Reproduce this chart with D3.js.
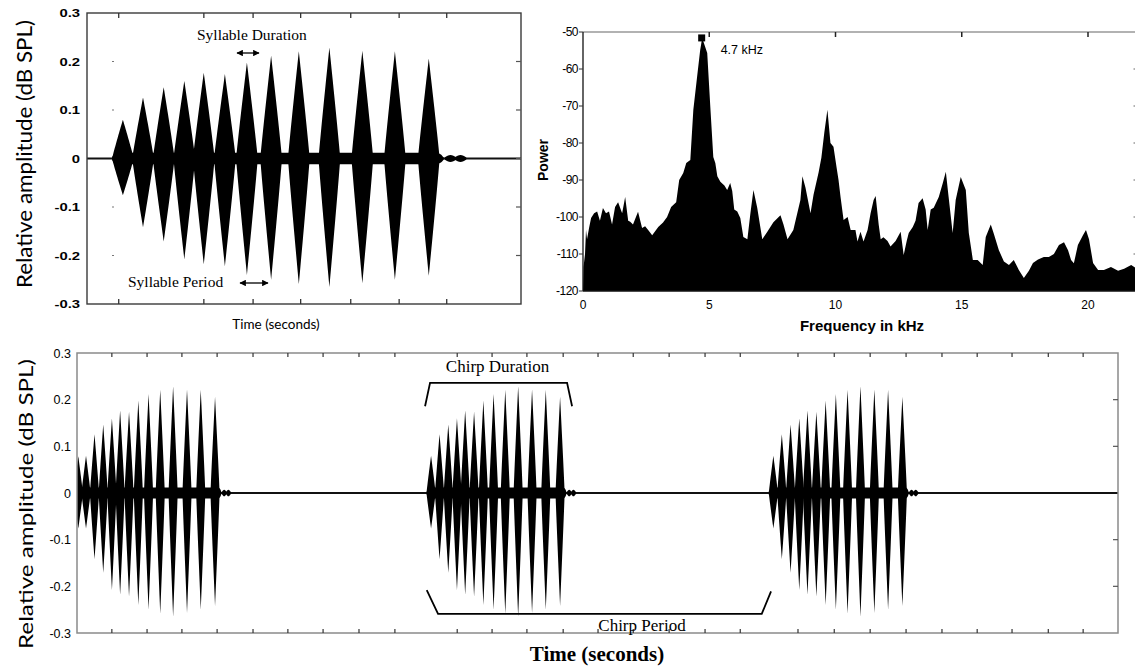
<!DOCTYPE html>
<html>
<head>
<meta charset="utf-8">
<script src="https://d3js.org/d3.v7.min.js"></script>
<style>
  body{margin:0;background:#fff;}
  svg{display:block;}
</style>
</head>
<body>
<div id="main"></div>
<script>
/* Size */
const width=1135,height=668;

/* Data: one chirp = 13 syllables (seconds after chirp onset, relative amplitude) */
const syllableOffsets=[0,0.0241,0.0489,0.0736,0.0969,0.1222,0.1486,0.1776,0.2108,0.2474,0.2869,0.3259,0.3665];
const syllableTop=[0.08,0.126,0.147,0.16,0.177,0.174,0.198,0.212,0.221,0.229,0.222,0.221,0.206];
const syllableBottom=[-0.076,-0.142,-0.171,-0.208,-0.218,-0.222,-0.24,-0.25,-0.259,-0.265,-0.257,-0.25,-0.242];

/* zoomed chirp (top left) */
const zoomOnset=0.043;
const zoomTicks=[0.038,0.140,0.199,0.256,0.316,0.374,0.431];

/* chirp train (bottom) */
const chirpOnsets=[0.0256,1.0057,1.978];
const leadSyllable={t:0.0037,top:0.079,bottom:-0.076};
const chirpTicks=[0.099,0.199,0.298,0.398,0.5,0.599,0.699,0.801,0.903,1.080,1.179,1.278,1.381,1.480,1.580,1.682,1.784,1.884,2.048,2.151,2.253,2.355,2.457,2.557,2.656,2.759,2.858];
const ampTicks=[0.3,0.2,0.1,0,-0.1,-0.2,-0.3];
const ampLabels=["0.3","0.2","0.1","0","-0.1","-0.2","-0.3"];

/* power spectrum (top right) */
const freqKHz=[0,0.02,0.08,0.12,0.16,0.24,0.32,0.44,0.56,0.67,
  0.79,0.91,1.03,1.15,1.27,1.39,1.55,1.67,1.79,1.87,
  1.98,2.18,2.34,2.46,2.58,2.74,2.98,3.17,3.33,3.49,
  3.69,3.81,3.97,4.09,4.25,4.37,4.52,4.64,4.72,4.92,
  5.04,5.16,5.24,5.32,5.44,5.60,5.71,5.83,5.91,5.99,
  6.11,6.23,6.35,6.51,6.63,6.75,6.90,7.10,7.30,7.54,
  7.82,7.94,8.10,8.33,8.61,8.69,8.81,9.01,9.13,9.33,
  9.44,9.56,9.68,9.80,9.92,10.04,10.12,10.20,10.32,10.48,
  10.60,10.79,10.87,10.99,11.11,11.27,11.39,11.51,11.59,11.71,
  11.79,11.90,12.06,12.18,12.38,12.58,12.70,12.82,12.90,13.06,
  13.17,13.29,13.45,13.57,13.65,13.77,13.89,14.09,14.25,14.37,
  14.48,14.64,14.76,14.96,15.16,15.28,15.44,15.63,15.83,15.95,
  16.15,16.27,16.47,16.67,16.87,17.06,17.26,17.46,17.66,17.82,
  18.02,18.25,18.45,18.65,18.85,19.05,19.21,19.33,19.44,19.60,
  19.80,19.92,20.04,20.20,20.40,20.63,20.91,21.19,21.43,21.71,22.0];
const powerDb=[-120,-113.5,-110,-103.5,-106,-103,-100.3,-99,-98.5,-101,
  -97.6,-99,-98.5,-102,-97.3,-96,-99,-94.6,-101,-101.3,
  -102,-98.6,-103,-102.5,-103.5,-104.9,-102.7,-101.5,-100,-97.3,
  -96,-90,-88.1,-85.4,-84.6,-71,-62,-54.9,-51.6,-55.7,
  -70,-83.8,-85.4,-89,-90.5,-91.5,-92.7,-90.8,-93,-98,
  -98.5,-100.3,-105.4,-106,-99,-92.7,-97.5,-106,-104,-101.4,
  -99.5,-102,-106,-103.5,-95.4,-89,-92,-99,-94,-88,
  -84,-77,-71,-80,-81,-86.5,-90,-94.6,-100.8,-100,
  -103.5,-103.5,-106.6,-104,-106.6,-103.5,-99,-95.4,-94.3,-102,
  -106,-105.5,-106.5,-108,-106.5,-104,-110.3,-106.5,-104.3,-102.7,
  -101,-96.2,-94.9,-98,-103.5,-98,-97.5,-94.6,-90.8,-87.8,
  -94.6,-104.3,-95.4,-89.2,-92.7,-104.3,-111.6,-111.6,-113,-105.4,
  -102,-104.5,-109,-112,-113,-111.6,-114.3,-116.5,-114.5,-112.4,
  -111.5,-110.8,-110.8,-110,-107.6,-106.8,-109,-111.6,-112.5,-107.6,
  -104.9,-103.5,-106,-112.4,-114.3,-114.3,-113.5,-114.5,-114,-113,-114.3];
const powerTicks=[-50,-60,-70,-80,-90,-100,-110,-120];
const freqTicks=[0,5,10,15,20];
const peakMark={f:4.7,db:-51.6,label:"4.7 kHz"};

const sans="'Liberation Sans', Arial, sans-serif";
const serif="'Liberation Serif', 'Times New Roman', serif";
const human="Lato, 'Open Sans', sans-serif";

const svg=d3.select("#main").append("svg").attr("width",width).attr("height",height);

/* Scales */
const xZ=d3.scaleLinear().domain([0,0.52]).range([87,521]);
const yZ=d3.scaleLinear().domain([-0.3,0.3]).range([304,13]);
const xF=d3.scaleLinear().domain([0,22]).range([583,1138.5]);
const yP=d3.scaleLinear().domain([-120,-50]).range([291,32]);
const xC=d3.scaleLinear().domain([0,2.957]).range([77,1118]);
const yC=d3.scaleLinear().domain([-0.3,0.3]).range([633,353]);

/* syllable list for a chirp */
function chirp(onset){
  return syllableOffsets.map((o,i)=>({t:onset+o,top:syllableTop[i],bottom:syllableBottom[i]}));
}

const halfWidth=0.013, bandAmp=0.012;
const profile=d3.range(-1,1.0001,0.05);

function drawWave(g,x,y,syllables,spans,lineW){
  // thin baseline
  g.append("line")
    .attr("x1",x.range()[0]).attr("x2",x.range()[1])
    .attr("y1",y(0)).attr("y2",y(0))
    .attr("stroke","#111").attr("stroke-width",lineW);
  const band=d3.area().x(d=>x(d[0])).y0(d=>y(-d[1])).y1(d=>y(d[1])).curve(d3.curveMonotoneX);
  spans.forEach(s=>{
    const a=s[0]-0.008,b=s[1]+0.018;
    g.append("path").attr("fill","#000")
      .attr("d",band([[a,0.001],[a+0.005,bandAmp],[b-0.01,bandAmp],[b-0.004,0.009],[b,0.002]]));
    // small trailing bursts after the chirp
    [0.008,0.02].forEach(c=>{
      g.append("path").attr("fill","#000")
        .attr("d",band([[b+c-0.007,0.002],[b+c,0.007],[b+c+0.007,0.002]]));
    });
  });
  const sylArea=d3.area().x(d=>x(d.t)).y0(d=>y(d.lo)).y1(d=>y(d.hi));
  syllables.forEach(s=>{
    const pts=profile.map(u=>{
      const k=Math.pow(1-Math.abs(u),0.95);
      return {t:s.t+u*halfWidth,hi:Math.max(s.top*k,0.004),lo:Math.min(s.bottom*k,-0.004)};
    });
    g.append("path").attr("d",sylArea(pts)).attr("fill","#000");
  });
}

const defs=svg.append("defs");
defs.append("clipPath").attr("id","clipZ").append("rect")
  .attr("x",87).attr("y",13).attr("width",434).attr("height",291);
defs.append("clipPath").attr("id","clipC").append("rect")
  .attr("x",77).attr("y",353).attr("width",1041).attr("height",280);

/* ---------- top left: one chirp ---------- */
let gZ=svg.append("g");
let zSyl=chirp(zoomOnset);
drawWave(gZ.append("g").attr("clip-path","url(#clipZ)"),xZ,yZ,zSyl,
  [[zSyl[0].t,zSyl[zSyl.length-1].t]],2);

gZ.append("rect").attr("x",87).attr("y",13).attr("width",434).attr("height",291)
  .attr("fill","none").attr("stroke","#3a3a3a").attr("stroke-width",1.4);
gZ.selectAll(".tt").data(zoomTicks).enter().append("line")
  .attr("x1",d=>xZ(d)).attr("x2",d=>xZ(d)).attr("y1",13).attr("y2",18)
  .attr("stroke","#333").attr("stroke-width",1.3);
gZ.selectAll(".tb").data(zoomTicks).enter().append("line")
  .attr("x1",d=>xZ(d)).attr("x2",d=>xZ(d)).attr("y1",299).attr("y2",304)
  .attr("stroke","#333").attr("stroke-width",1.3);
gZ.selectAll(".tr").data(ampTicks.slice(1,6)).enter().append("line")
  .attr("x1",516).attr("x2",521).attr("y1",d=>yZ(d)).attr("y2",d=>yZ(d))
  .attr("stroke","#555").attr("stroke-width",1.2);
gZ.selectAll(".tl").data(ampTicks.filter(d=>d!==0&&Math.abs(d)<0.3)).enter().append("line")
  .attr("x1",112).attr("x2",114).attr("y1",d=>yZ(d)).attr("y2",d=>yZ(d))
  .attr("stroke","#777").attr("stroke-width",1.2);
gZ.selectAll(".lab").data(ampTicks).enter().append("text")
  .attr("transform",d=>`translate(80,${yZ(d)+4}) scale(1.35,1)`)
  .attr("text-anchor","end")
  .style("font-family",sans).style("font-size","11px").style("font-weight","bold")
  .text((d,i)=>ampLabels[i]);

gZ.append("text").attr("x",276).attr("y",329).attr("text-anchor","middle")
  .style("font-family",human).style("font-size","13.5px").text("Time (seconds)");
gZ.append("text").attr("transform","translate(32,154) rotate(-90)")
  .attr("text-anchor","middle").attr("textLength",268).attr("lengthAdjust","spacingAndGlyphs")
  .style("font-family",human).style("font-size","21px").text("Relative amplitude (dB SPL)");

/* annotations */
const arrowDefs=defs.append("marker").attr("id","ah").attr("viewBox","0 0 10 10")
  .attr("refX",9).attr("refY",5).attr("markerWidth",5).attr("markerHeight",5)
  .attr("orient","auto-start-reverse");
arrowDefs.append("path").attr("d","M0,0L10,5L0,10z").attr("fill","#000");

gZ.append("text").attr("x",197).attr("y",40)
  .style("font-family",serif).style("font-size","15.5px").text("Syllable Duration");
gZ.append("line").attr("x1",237).attr("x2",259).attr("y1",53).attr("y2",53)
  .attr("stroke","#000").attr("stroke-width",1.3)
  .attr("marker-start","url(#ah)").attr("marker-end","url(#ah)");
gZ.append("text").attr("x",128).attr("y",287)
  .style("font-family",serif).style("font-size","15.5px").text("Syllable Period");
gZ.append("line").attr("x1",240).attr("x2",268).attr("y1",283).attr("y2",283)
  .attr("stroke","#000").attr("stroke-width",1.3)
  .attr("marker-start","url(#ah)").attr("marker-end","url(#ah)");

/* ---------- top right: power spectrum ---------- */
let gP=svg.append("g");
const spec=d3.zip(freqKHz,powerDb);
const specArea=d3.area().x(d=>xF(d[0])).y0(yP(-120)).y1(d=>yP(d[1]));
gP.append("path").attr("d",specArea(spec)).attr("fill","#000");

gP.append("line").attr("x1",583).attr("x2",1135).attr("y1",32).attr("y2",32)
  .attr("stroke","#999").attr("stroke-width",1.5);
gP.append("line").attr("x1",583).attr("x2",583).attr("y1",32).attr("y2",291)
  .attr("stroke","#111").attr("stroke-width",1.3);
gP.append("line").attr("x1",583).attr("x2",1135).attr("y1",291).attr("y2",291)
  .attr("stroke","#111").attr("stroke-width",1.3);
gP.selectAll(".pl").data(powerTicks).enter().append("line")
  .attr("x1",579).attr("x2",583).attr("y1",d=>yP(d)).attr("y2",d=>yP(d))
  .attr("stroke","#333").attr("stroke-width",1);
gP.selectAll(".pr").data(powerTicks.slice(1,7)).enter().append("line")
  .attr("x1",xF(22)-5).attr("x2",xF(22)).attr("y1",d=>yP(d)).attr("y2",d=>yP(d))
  .attr("stroke","#666").attr("stroke-width",1);
gP.selectAll(".pt").data(freqTicks.slice(1)).enter().append("line")
  .attr("x1",d=>xF(d)).attr("x2",d=>xF(d)).attr("y1",32).attr("y2",37)
  .attr("stroke","#222").attr("stroke-width",1.5);
gP.selectAll(".plab").data(powerTicks).enter().append("text")
  .attr("x",578).attr("y",d=>yP(d)+4).attr("text-anchor","end")
  .style("font-family",sans).style("font-size","12px").style("letter-spacing","-0.5px")
  .text(d=>d);
gP.selectAll(".flab").data(freqTicks).enter().append("text")
  .attr("x",d=>xF(d)).attr("y",309).attr("text-anchor","middle")
  .style("font-family",sans).style("font-size","12px").text(d=>d);
gP.append("text").attr("x",862).attr("y",331).attr("text-anchor","middle")
  .style("font-family",sans).style("font-size","15px").style("font-weight","bold")
  .text("Frequency in kHz");
gP.append("text").attr("transform","translate(548,160) rotate(-90)").attr("text-anchor","middle")
  .style("font-family",sans).style("font-size","14px").style("font-weight","bold").text("Power");
gP.append("rect").attr("x",xF(peakMark.f)-3.5).attr("y",yP(peakMark.db)-3.5)
  .attr("width",7).attr("height",7).attr("fill","#000");
gP.append("text").attr("x",xF(peakMark.f)+19).attr("y",yP(peakMark.db)+16)
  .style("font-family",sans).style("font-size","12.5px").text(peakMark.label);

/* ---------- bottom: chirp train ---------- */
let gC=svg.append("g");
let cSyl=[leadSyllable];
let spans=[];
chirpOnsets.forEach(o=>{
  const s=chirp(o);
  cSyl=cSyl.concat(s);
  spans.push([o===chirpOnsets[0]?leadSyllable.t:o,s[s.length-1].t]);
});
drawWave(gC.append("g").attr("clip-path","url(#clipC)"),xC,yC,cSyl,spans,1.8);

gC.append("rect").attr("x",77).attr("y",353).attr("width",1041).attr("height",280)
  .attr("fill","none").attr("stroke","#8a8a8a").attr("stroke-width",1.5);
gC.selectAll(".ct").data(chirpTicks).enter().append("line")
  .attr("x1",d=>xC(d)).attr("x2",d=>xC(d)).attr("y1",353).attr("y2",357)
  .attr("stroke","#333").attr("stroke-width",1.2);
gC.selectAll(".cb").data(chirpTicks).enter().append("line")
  .attr("x1",d=>xC(d)).attr("x2",d=>xC(d)).attr("y1",629).attr("y2",633)
  .attr("stroke","#333").attr("stroke-width",1.2);
gC.selectAll(".cr").data(ampTicks.filter(d=>d!==0&&Math.abs(d)<0.3)).enter().append("line")
  .attr("x1",1113).attr("x2",1118).attr("y1",d=>yC(d)).attr("y2",d=>yC(d))
  .attr("stroke","#555").attr("stroke-width",1.2);
gC.selectAll(".clab").data(ampTicks).enter().append("text")
  .attr("x",71).attr("y",d=>yC(d)+4.5).attr("text-anchor","end")
  .style("font-family",sans).style("font-size","12.5px").text((d,i)=>ampLabels[i]);
gC.append("text").attr("transform","translate(33,504) rotate(-90)")
  .attr("text-anchor","middle").attr("textLength",290).attr("lengthAdjust","spacingAndGlyphs")
  .style("font-family",human).style("font-size","20px").text("Relative amplitude (dB SPL)");
gC.append("text").attr("x",597).attr("y",661).attr("text-anchor","middle")
  .style("font-family",serif).style("font-size","21px").style("font-weight","bold")
  .text("Time (seconds)");

/* chirp duration / period brackets */
const c2=chirpOnsets[1], c2end=c2+syllableOffsets[syllableOffsets.length-1], c3=chirpOnsets[2];
const bracket=d3.line().x(d=>d[0]).y(d=>d[1]);
gC.append("path").attr("fill","none").attr("stroke","#000").attr("stroke-width",1.8)
  .attr("d",bracket([[xC(c2)-6,yC(0.186)],[xC(c2)-1,yC(0.236)],[xC(c2end)+7,yC(0.236)],[xC(c2end)+12,yC(0.186)]]));
gC.append("text").attr("x",(xC(c2)+xC(c2end))/2+2).attr("y",372).attr("text-anchor","middle")
  .style("font-family",serif).style("font-size","17px").text("Chirp Duration");
gC.append("path").attr("fill","none").attr("stroke","#000").attr("stroke-width",1.8)
  .attr("d",bracket([[xC(c2)-4.3,yC(-0.208)],[xC(c2)+7,yC(-0.259)],[xC(c3)-11.6,yC(-0.259)],[xC(c3)-2.3,yC(-0.211)]]));
gC.append("text").attr("x",642).attr("y",631).attr("text-anchor","middle")
  .style("font-family",serif).style("font-size","17px").text("Chirp Period");
</script>
</body>
</html>
